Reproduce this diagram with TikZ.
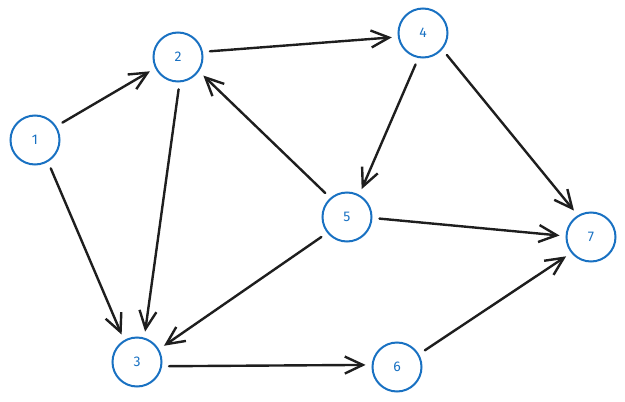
\documentclass[tikz,border=0pt]{standalone}
\usepackage{fontspec}
\setmainfont{Fira Sans}
\usetikzlibrary{arrows.meta}
\definecolor{exblue}{HTML}{1971C2}
\definecolor{exink}{HTML}{1E1E1E}

\begin{document}
\begin{tikzpicture}[
  x=1pt, y=-1pt,
  font=\fontsize{14}{16}\selectfont,
  vert/.style={draw=exblue, text=exblue, circle, line width=2pt,
    minimum size=49pt, inner sep=0pt, outer sep=0pt},
  arr/.style={-{Straight Barb[length=18pt, width=17pt, line width=2.4pt]},
    line width=2.4pt, draw=exink, line cap=round,
    shorten <=8pt, shorten >=7pt}
]
\useasboundingbox (0,0) rectangle (625,402);
\node[vert] (n1) at (35,140) {1};
\node[vert] (n2) at (178,57) {2};
\node[vert] (n3) at (137,362) {3};
\node[vert] (n4) at (423,33) {4};
\node[vert] (n5) at (347,217) {5};
\node[vert] (n6) at (397,367) {6};
\node[vert] (n7) at (591,237) {7};
% edges, leaving and entering the circles where the sketch does
\draw[arr] (n1.33) -- (n2.206);
\draw[arr] (n1.-59) -- (n3.121);
\draw[arr] (n2.12) -- (n4.189);
\draw[arr] (n2.-86) -- (n3.73);
\draw[arr] (n4.-100) -- (n5.61);
\draw[arr] (n4.-40) -- (n7.121);
\draw[arr] (n5.131) -- (n2.-34);
\draw[arr] (n5.-2) -- (n7.178);
\draw[arr] (n5.219) -- (n3.30);
\draw[arr] (n3.-10) -- (n6.175);
\draw[arr] (n6.30) -- (n7.219);
\end{tikzpicture}
\end{document}
